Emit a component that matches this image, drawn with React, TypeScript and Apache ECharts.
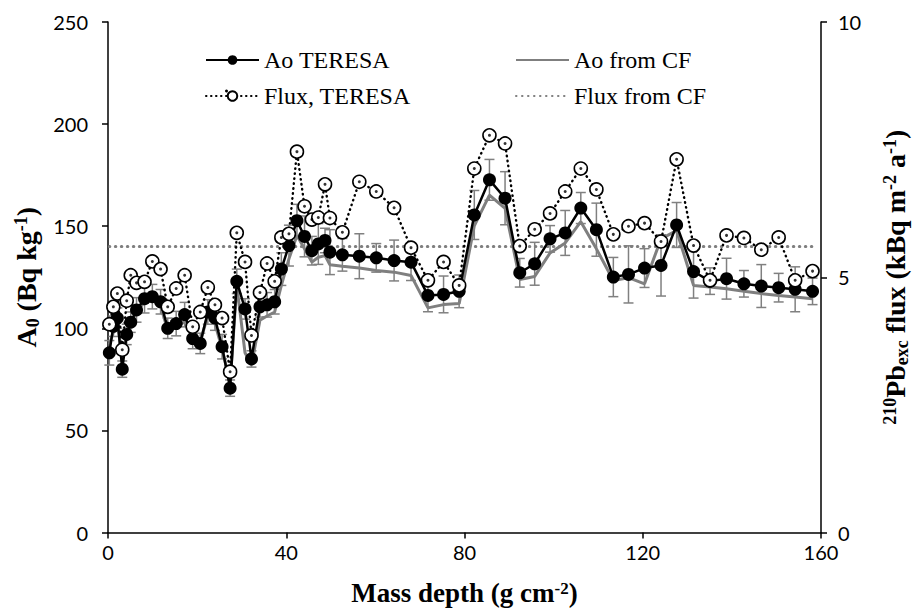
import React, { useEffect, useRef } from "react";
import * as echarts from "echarts";

// Mass depth (g cm-2)
const depth = [0.3, 1.2, 2.1, 3.2, 4.2, 5.1, 6.4, 8.2, 9.95, 11.8, 13.4, 15.3, 17.2, 19.0, 20.7, 22.4, 24.0, 25.6, 27.4, 28.9, 30.75, 32.2, 34.1, 35.7, 37.4, 38.9, 40.6, 42.4, 44.1, 45.75, 47.2, 48.7, 49.8, 52.6, 56.4, 60.2, 64.2, 68.0, 71.8, 75.3, 78.8, 82.2, 85.6, 89.1, 92.4, 95.75, 99.2, 102.6, 106.1, 109.6, 113.4, 116.8, 120.4, 124.1, 127.6, 131.4, 135.1, 138.8, 142.7, 146.6, 150.5, 154.2, 158.1];

// Ao TERESA (Bq kg-1)
const aoTeresa = [88, 101, 105, 80, 97, 103, 109, 114.5, 115.5, 113, 100, 102.3, 106.7, 95, 92.6, 108, 105, 91, 70.7, 123, 109.5, 85, 110.5, 111.5, 113, 129, 140.5, 152.7, 145, 138, 141.3, 143, 137.3, 136, 135.3, 134.5, 133.2, 132.4, 116.1, 116.6, 118.1, 155.5, 172.7, 163.7, 127.2, 131.6, 143.8, 146.7, 158.9, 148.3, 125.1, 126.4, 129.5, 130.8, 150.6, 127.8, 123.1, 124.3, 121.8, 120.7, 119.9, 119.1, 118.1];

// Ao TERESA uncertainty (± Bq kg-1)
const aoErr = [6, 5, 5, 4, 5, 5, 6, 7, 6, 6, 5, 6, 6, 5, 5, 6, 6, 6, 4, 6, 5, 4, 5, 6, 6, 8, 10, 8, 10, 7, 10, 6, 11, 8, 11, 7, 10, 9, 8, 9, 8, 12, 10, 13, 7, 10.5, 6.5, 11, 7.6, 13, 9.6, 14, 9.5, 15, 11, 13, 6.5, 10, 6.5, 10.5, 7, 11, 6.5];

// Ao from CF (Bq kg-1)
const aoCF = [92, 98, 104, 84, 97, 103, 108, 113, 114, 111, 99, 100.7, 103.2, 95, 93.4, 106.4, 102.3, 90, 73, 121, 88, 82, 104, 106, 108, 121, 134, 145.4, 138.9, 132.4, 134.8, 135.6, 131.1, 130.4, 129.5, 128.3, 127.5, 125.9, 110, 111.6, 112.1, 150.2, 165.2, 158.7, 123.9, 125.4, 136.9, 141.8, 152.2, 138.9, 123.4, 124.8, 121.8, 143.8, 147.8, 121, 120.2, 119.4, 118.1, 117, 116.1, 115.3, 114.5];

// Flux, TERESA (kBq m-2 a-1)
const fluxTeresa = [4.08, 4.42, 4.68, 3.58, 4.54, 5.04, 4.89, 4.91, 5.31, 5.16, 4.42, 4.78, 5.04, 4.03, 4.32, 4.80, 4.46, 4.20, 3.15, 5.87, 5.30, 3.86, 4.70, 5.27, 4.92, 5.78, 5.85, 7.46, 6.39, 6.13, 6.17, 6.82, 6.16, 5.88, 6.87, 6.68, 6.36, 5.58, 4.94, 5.30, 4.84, 7.13, 7.78, 7.62, 5.61, 5.94, 6.25, 6.68, 7.13, 6.72, 5.84, 6.00, 6.06, 5.70, 7.31, 5.62, 4.94, 5.82, 5.77, 5.54, 5.78, 4.94, 5.12];

// Flux from CF (kBq m-2 a-1), constant
const fluxCF = 5.6;

const xTicks = { min: 0, max: 160, interval: 40 };
const yTicks = { min: 0, max: 250, interval: 50 };
const y2Ticks = { min: 0, max: 10, interval: 5 };

const SERIF = "'Liberation Serif', 'Times New Roman', serif";
const SANS = "Lato, 'Open Sans', sans-serif";

export default function App() {
  const ref = useRef<HTMLDivElement>(null);
  useEffect(() => {
    if (!ref.current) return;
    const chart = echarts.init(ref.current, null, { renderer: "svg" });
    const aoData = depth.map((d, i) => [d, aoTeresa[i]]);
    const cfData = depth.map((d, i) => [d, aoCF[i]]);
    const fluxData = depth.map((d, i) => [d, fluxTeresa[i]]);
    const errData = depth.map((d, i) => [d, aoTeresa[i] - aoErr[i], aoTeresa[i] + aoErr[i]]);
    const fluxCFData = [
      [depth[0], fluxCF],
      [depth[depth.length - 1], fluxCF],
    ];

    const mkRich = (F: number, f: number, lh: number) => ({
      b: { fontFamily: SERIF, fontWeight: "bold", fontSize: F, lineHeight: lh, color: "#000" },
      sup: { fontFamily: SERIF, fontWeight: "bold", fontSize: f, lineHeight: f, verticalAlign: "top", padding: [2, 0, 0, 0], color: "#000" },
      sub: { fontFamily: SERIF, fontWeight: "bold", fontSize: f, lineHeight: f, verticalAlign: "bottom", padding: [0, 0, 0, 0], color: "#000" },
    });

    const axisLine = { show: true, lineStyle: { color: "#000", width: 1.5 } };
    const axisTick = { show: true, inside: false, length: 6, lineStyle: { color: "#000", width: 1.5 } };
    const axisLabel = { color: "#000", fontFamily: SANS, fontSize: 20, lineHeight: 16 };
    const legendText = { fontFamily: SERIF, fontSize: 24, color: "#000", lineHeight: 26 };

    chart.setOption({
      animation: false,
      backgroundColor: "#fff",
      grid: { left: 108, right: 93, top: 22, bottom: 76, containLabel: false },
      legend: [
        {
          orient: "vertical",
          left: 200,
          top: 42,
          itemWidth: 53,
          itemHeight: 12,
          itemGap: 10,
          selectedMode: false,
          textStyle: legendText,
          data: ["Ao TERESA", "Flux, TERESA"],
        },
        {
          orient: "vertical",
          left: 510,
          top: 42,
          itemWidth: 53,
          itemHeight: 12,
          itemGap: 10,
          selectedMode: false,
          textStyle: legendText,
          data: [
            { name: "Ao from CF", itemStyle: { opacity: 0 } },
            { name: "Flux from CF", itemStyle: { opacity: 0 } },
          ],
        },
      ],
      graphic: [
        { type: "circle", shape: { cx: 226.5, cy: 91, r: 1.5 }, style: { fill: "#000" }, z: 100 },
      ],
      xAxis: {
        type: "value",
        ...xTicks,
        axisLine,
        axisTick,
        axisLabel: { ...axisLabel, margin: 11 },
        splitLine: { show: false },
        name: "{b|Mass depth (g cm}{sup|-2}{b|)}",
        nameLocation: "middle",
        nameGap: 45,
        nameTextStyle: { rich: mkRich(27, 17, 30) },
      },
      yAxis: [
        {
          type: "value",
          position: "left",
          ...yTicks,
          axisLine,
          axisTick,
          axisLabel: { ...axisLabel, margin: 20 },
          splitLine: { show: false },
          name: "{b|A}{sub|0}{b| (Bq kg}{sup|-1}{b|)}",
          nameLocation: "middle",
          nameRotate: 90,
          nameGap: 64,
          nameTextStyle: { rich: mkRich(28, 18, 32) },
        },
        {
          type: "value",
          position: "right",
          ...y2Ticks,
          axisLine,
          axisTick,
          axisLabel: { ...axisLabel, lineHeight: 14, margin: 17 },
          splitLine: { show: false },
          name: "{sup|210}{b|Pb}{sub|exc}{b| flux (kBq m}{sup|-2}{b| a}{sup|-1}{b|)}",
          nameLocation: "middle",
          nameRotate: 90,
          nameGap: 58,
          nameTextStyle: { rich: mkRich(28, 18, 32) },
        },
      ],
      series: [
        {
          type: "custom",
          name: "err",
          xAxisIndex: 0,
          yAxisIndex: 0,
          z: 1,
          encode: { x: 0, y: [1, 2] },
          data: errData,
          renderItem: (params: any, api: any) => {
            const x = api.value(0);
            const lo = api.coord([x, api.value(1)]);
            const hi = api.coord([x, api.value(2)]);
            const w = 5;
            const st = { stroke: "#808080", lineWidth: 1.5 };
            return {
              type: "group",
              children: [
                { type: "line", shape: { x1: lo[0], y1: lo[1], x2: hi[0], y2: hi[1] }, style: st },
                { type: "line", shape: { x1: lo[0] - w, y1: lo[1], x2: lo[0] + w, y2: lo[1] }, style: st },
                { type: "line", shape: { x1: hi[0] - w, y1: hi[1], x2: hi[0] + w, y2: hi[1] }, style: st },
              ],
            };
          },
        },
        {
          type: "line",
          name: "Ao from CF",
          yAxisIndex: 0,
          z: 2,
          data: cfData,
          symbol: "none",
          lineStyle: { color: "#7f7f7f", width: 3 },
          itemStyle: { color: "#7f7f7f" },
        },
        {
          type: "line",
          name: "Flux from CF",
          yAxisIndex: 1,
          z: 2,
          data: fluxCFData,
          symbol: "none",
          lineStyle: { color: "#7f7f7f", width: 3, type: [0.5, 5.5], cap: "round" },
          itemStyle: { color: "#7f7f7f" },
        },
        {
          type: "line",
          name: "Ao TERESA",
          yAxisIndex: 0,
          z: 3,
          data: aoData,
          symbol: "circle",
          symbolSize: 13,
          lineStyle: { color: "#000", width: 2.5 },
          itemStyle: { color: "#000" },
        },
        {
          type: "line",
          name: "Flux, TERESA",
          yAxisIndex: 1,
          z: 4,
          data: fluxData,
          symbol: "circle",
          symbolSize: 13,
          lineStyle: { color: "#000", width: 2.4, type: [0.5, 4.5], cap: "round" },
          itemStyle: { color: "#fff", borderColor: "#000", borderWidth: 1.6 },
        },
        {
          type: "scatter",
          name: "fluxDot",
          yAxisIndex: 1,
          z: 5,
          data: fluxData,
          symbol: "circle",
          symbolSize: 3,
          itemStyle: { color: "#000" },
          silent: true,
        },
      ],
    });
    return () => chart.dispose();
  }, []);
  return (
    <div
      ref={ref}
      style={{ position: "fixed", left: 0, top: 0, width: 919, height: 611, background: "#fff" }}
    />
  );
}
